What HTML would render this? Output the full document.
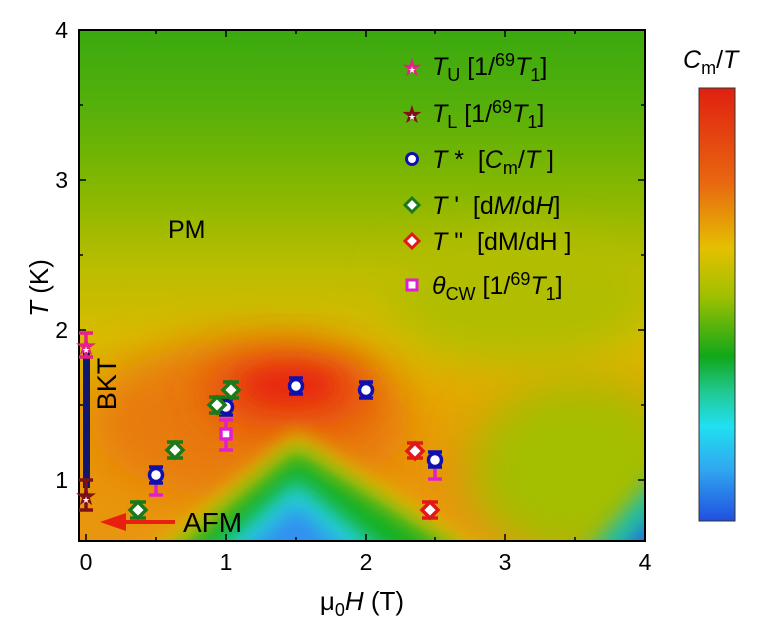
<!DOCTYPE html>
<html><head><meta charset="utf-8"><style>
html,body{margin:0;padding:0;background:#fff;}
svg{display:block;font-family:"Liberation Sans",Arial,sans-serif;}
</style></head><body>
<svg width="760" height="623" viewBox="0 0 760 623" xmlns="http://www.w3.org/2000/svg">
<defs>
<linearGradient id="bg" x1="0" y1="30" x2="0" y2="541" gradientUnits="userSpaceOnUse">
<stop offset="0" stop-color="#3aa90f"/>
<stop offset="0.15" stop-color="#55b00a"/>
<stop offset="0.32" stop-color="#88b800"/>
<stop offset="0.47" stop-color="#bcbd00"/>
<stop offset="0.6" stop-color="#d8bb00"/>
<stop offset="0.72" stop-color="#e4a800"/>
<stop offset="0.86" stop-color="#e89608"/>
<stop offset="1" stop-color="#e89610"/>
</linearGradient>
<linearGradient id="cb" x1="0" y1="0" x2="0" y2="1">
<stop offset="0" stop-color="#e02010"/>
<stop offset="0.22" stop-color="#e86810"/>
<stop offset="0.37" stop-color="#e4c000"/>
<stop offset="0.48" stop-color="#a0c000"/>
<stop offset="0.62" stop-color="#10a818"/>
<stop offset="0.7" stop-color="#20c890"/>
<stop offset="0.78" stop-color="#20e0f0"/>
<stop offset="0.88" stop-color="#30a8f0"/>
<stop offset="1" stop-color="#2050e0"/>
</linearGradient>
<filter id="b1" x="-50%" y="-50%" width="200%" height="200%"><feGaussianBlur stdDeviation="22"/></filter>
<filter id="b2" x="-50%" y="-50%" width="200%" height="200%"><feGaussianBlur stdDeviation="10"/></filter>
<clipPath id="pc"><rect x="79" y="30" width="566" height="511"/></clipPath>
</defs>
<g clip-path="url(#pc)">
<rect x="79" y="30" width="566" height="511" fill="url(#bg)"/>
<ellipse cx="580" cy="470" rx="110" ry="90" fill="#a4be00" filter="url(#b1)"/>
<ellipse cx="520" cy="300" rx="130" ry="60" fill="#b0bd00" filter="url(#b1)"/>
<ellipse cx="250" cy="420" rx="160" ry="80" fill="#e87a08" filter="url(#b1)"/>
<ellipse cx="290" cy="390" rx="85" ry="38" fill="#e84010" filter="url(#b1)"/>
<ellipse cx="290" cy="385" rx="45" ry="18" fill="#e82a10" filter="url(#b2)"/>
<polygon points="140,560 296,430 500,560" fill="#d8c000" filter="url(#b2)"/>
<polygon points="165,560 296,450 470,560" fill="#18b020" filter="url(#b2)"/>
<polygon points="205,560 296,480 395,560" fill="#20d0d8" filter="url(#b2)"/>
<polygon points="235,560 296,505 355,560" fill="#3090f0" filter="url(#b2)"/>
<polygon points="580,560 660,470 660,560" fill="#20c0a0" filter="url(#b2)"/>
<polygon points="615,560 660,510 660,560" fill="#2060e8" filter="url(#b2)"/>
</g>
<rect x="79" y="30" width="566" height="511" fill="none" stroke="#000" stroke-width="2"/>
<g stroke="#000" stroke-width="1.5">
<line x1="86" y1="541" x2="86" y2="534"/><line x1="156" y1="541" x2="156" y2="537"/><line x1="226" y1="541" x2="226" y2="534"/><line x1="296" y1="541" x2="296" y2="537"/><line x1="366" y1="541" x2="366" y2="534"/><line x1="435" y1="541" x2="435" y2="537"/><line x1="505" y1="541" x2="505" y2="534"/><line x1="575" y1="541" x2="575" y2="537"/>
<line x1="226" y1="30" x2="226" y2="37"/><line x1="366" y1="30" x2="366" y2="37"/><line x1="505" y1="30" x2="505" y2="37"/><line x1="156" y1="30" x2="156" y2="34"/><line x1="296" y1="30" x2="296" y2="34"/><line x1="435" y1="30" x2="435" y2="34"/><line x1="575" y1="30" x2="575" y2="34"/>
<line x1="79" y1="480" x2="86" y2="480"/><line x1="79" y1="405" x2="83" y2="405"/><line x1="79" y1="330" x2="86" y2="330"/><line x1="79" y1="255" x2="83" y2="255"/><line x1="79" y1="180" x2="86" y2="180"/><line x1="79" y1="105" x2="83" y2="105"/>
<line x1="645" y1="480" x2="638" y2="480"/><line x1="645" y1="405" x2="641" y2="405"/><line x1="645" y1="330" x2="638" y2="330"/><line x1="645" y1="255" x2="641" y2="255"/><line x1="645" y1="180" x2="638" y2="180"/><line x1="645" y1="105" x2="641" y2="105"/>
</g>
<g font-size="23" fill="#000" text-anchor="middle">
<text x="86" y="570">0</text><text x="226" y="570">1</text><text x="366" y="570">2</text><text x="505" y="570">3</text><text x="645" y="570">4</text>
</g>
<g font-size="23" fill="#000" text-anchor="end">
<text x="68" y="488">1</text><text x="68" y="338">2</text><text x="68" y="188">3</text><text x="68" y="38">4</text>
</g>
<text x="362" y="610" font-size="26" text-anchor="middle">μ<tspan font-size="18" dy="6">0</tspan><tspan dy="-6" font-style="italic">H</tspan> (T)</text>
<text transform="translate(48,288) rotate(-90)" font-size="26" text-anchor="middle"><tspan font-style="italic">T</tspan> (K)</text>
<text x="168" y="238" font-size="25">PM</text>
<text x="183" y="532" font-size="28">AFM</text>
<line x1="175" y1="522" x2="118" y2="522" stroke="#e82010" stroke-width="4"/>
<polygon points="100,522 126,513 126,531" fill="#e82010"/>
<rect x="83" y="350" width="7" height="138" fill="#10186e"/>
<text transform="translate(116,384) rotate(-90)" font-size="27" text-anchor="middle">BKT</text>
<g stroke-width="3.5" fill="none">
<g stroke="#e81e8a"><line x1="86" y1="333" x2="86" y2="357"/><line x1="79" y1="333" x2="93" y2="333"/><line x1="79" y1="357" x2="93" y2="357"/></g>
<g stroke="#801018"><line x1="86" y1="480" x2="86" y2="510"/><line x1="79" y1="480" x2="93" y2="480"/><line x1="79" y1="510" x2="93" y2="510"/></g>
<g stroke="#e020d0">
<line x1="156" y1="480" x2="156" y2="495"/><line x1="149" y1="495" x2="163" y2="495"/>
<line x1="226" y1="420" x2="226" y2="450"/><line x1="219" y1="420" x2="233" y2="420"/><line x1="219" y1="450" x2="233" y2="450"/>
<line x1="435" y1="460" x2="435" y2="479"/><line x1="428" y1="479" x2="442" y2="479"/>
</g>
<g stroke="#1010b0">
<line x1="149" y1="467" x2="163" y2="467"/><line x1="149" y1="483" x2="163" y2="483"/>
<line x1="219" y1="399" x2="233" y2="399"/><line x1="219" y1="415" x2="233" y2="415"/>
<line x1="289" y1="378" x2="303" y2="378"/><line x1="289" y1="394" x2="303" y2="394"/>
<line x1="359" y1="382" x2="373" y2="382"/><line x1="359" y1="398" x2="373" y2="398"/>
<line x1="428" y1="452" x2="442" y2="452"/><line x1="428" y1="467" x2="442" y2="467"/>
</g>
<g stroke="#1a7a1a">
<line x1="130" y1="502" x2="146" y2="502"/><line x1="130" y1="518" x2="146" y2="518"/>
<line x1="167" y1="442" x2="183" y2="442"/><line x1="167" y1="458" x2="183" y2="458"/>
<line x1="209" y1="397" x2="225" y2="397"/><line x1="209" y1="413" x2="225" y2="413"/>
<line x1="223" y1="382" x2="239" y2="382"/><line x1="223" y1="398" x2="239" y2="398"/>
</g>
<g stroke="#e01818">
<line x1="407" y1="443" x2="423" y2="443"/><line x1="407" y1="458" x2="423" y2="458"/>
<line x1="422" y1="502" x2="438" y2="502"/><line x1="422" y1="518" x2="438" y2="518"/>
</g>
</g>
<g stroke-width="3.5" fill="#fff">
<g stroke="#1010b0">
<circle cx="156" cy="475" r="6.5"/><circle cx="226" cy="407" r="6.5"/><circle cx="296" cy="386" r="6.5"/><circle cx="366" cy="390" r="6.5"/><circle cx="435" cy="460" r="6.5"/>
</g>
<rect x="221" y="429" width="10" height="10" stroke="#e020d0"/>
<g stroke="#1a7a1a">
<polygon points="138,502 146,510 138,518 130,510"/><polygon points="175,442 183,450 175,458 167,450"/><polygon points="217,397 225,405 217,413 209,405"/><polygon points="231,382 239,390 231,398 223,390"/>
</g>
<g stroke="#e01818">
<polygon points="415,443 423,451 415,459 407,451"/><polygon points="430,502 438,510 430,518 422,510"/>
</g>
</g>
<text x="86" y="355" font-size="26" fill="#e81e8a" text-anchor="middle">★</text>
<text x="86" y="353" font-size="9" fill="#fff" text-anchor="middle">★</text>
<text x="86" y="505" font-size="26" fill="#801018" text-anchor="middle">★</text>
<text x="86" y="503" font-size="9" fill="#fff" text-anchor="middle">★</text>
<text x="412" y="76" font-size="25" fill="#e81e8a" text-anchor="middle">★</text>
<text x="412" y="73" font-size="9" fill="#fff" text-anchor="middle">★</text>
<text x="412" y="123" font-size="25" fill="#801018" text-anchor="middle">★</text>
<text x="412" y="120" font-size="9" fill="#fff" text-anchor="middle">★</text>
<circle cx="412" cy="159" r="5.5" fill="#fff" stroke="#1010b0" stroke-width="3"/>
<polygon points="412,198 419,205 412,212 405,205" fill="#fff" stroke="#1a7a1a" stroke-width="3"/>
<polygon points="412,234 419,241 412,248 405,241" fill="#fff" stroke="#e01818" stroke-width="3"/>
<rect x="407" y="280" width="10" height="10" fill="#fff" stroke="#e020d0" stroke-width="3"/>
<g font-size="25" fill="#000">
<text x="432" y="75"><tspan font-style="italic">T</tspan><tspan font-size="18" dy="6">U</tspan><tspan dy="-6"> [1/</tspan><tspan font-size="18" dy="-9">69</tspan><tspan dy="9" font-style="italic">T</tspan><tspan font-size="18" dy="6">1</tspan><tspan dy="-6">]</tspan></text>
<text x="432" y="122"><tspan font-style="italic">T</tspan><tspan font-size="18" dy="6">L</tspan><tspan dy="-6">  [1/</tspan><tspan font-size="18" dy="-9">69</tspan><tspan dy="9" font-style="italic">T</tspan><tspan font-size="18" dy="6">1</tspan><tspan dy="-6">]</tspan></text>
<text x="432" y="168" xml:space="preserve"><tspan font-style="italic">T</tspan> *  [<tspan font-style="italic">C</tspan><tspan font-size="18" dy="6">m</tspan><tspan dy="-6">/</tspan><tspan font-style="italic">T</tspan> ]</text>
<text x="432" y="214" xml:space="preserve"><tspan font-style="italic">T</tspan> '  [d<tspan font-style="italic">M</tspan>/d<tspan font-style="italic">H</tspan>]</text>
<text x="432" y="250" xml:space="preserve"><tspan font-style="italic">T</tspan> "  [dM/dH ]</text>
<text x="432" y="294"><tspan font-style="italic">θ</tspan><tspan font-size="18" dy="6">CW</tspan><tspan dy="-6"> [1/</tspan><tspan font-size="18" dy="-9">69</tspan><tspan dy="9" font-style="italic">T</tspan><tspan font-size="18" dy="6">1</tspan><tspan dy="-6">]</tspan></text>
</g>
<rect x="699" y="88" width="36" height="433" fill="url(#cb)" stroke="#333" stroke-width="1"/>
<text x="683" y="68" font-size="25"><tspan font-style="italic">C</tspan><tspan font-size="18" dy="6">m</tspan><tspan dy="-6">/</tspan><tspan font-style="italic">T</tspan></text>
</svg>
</body></html>
